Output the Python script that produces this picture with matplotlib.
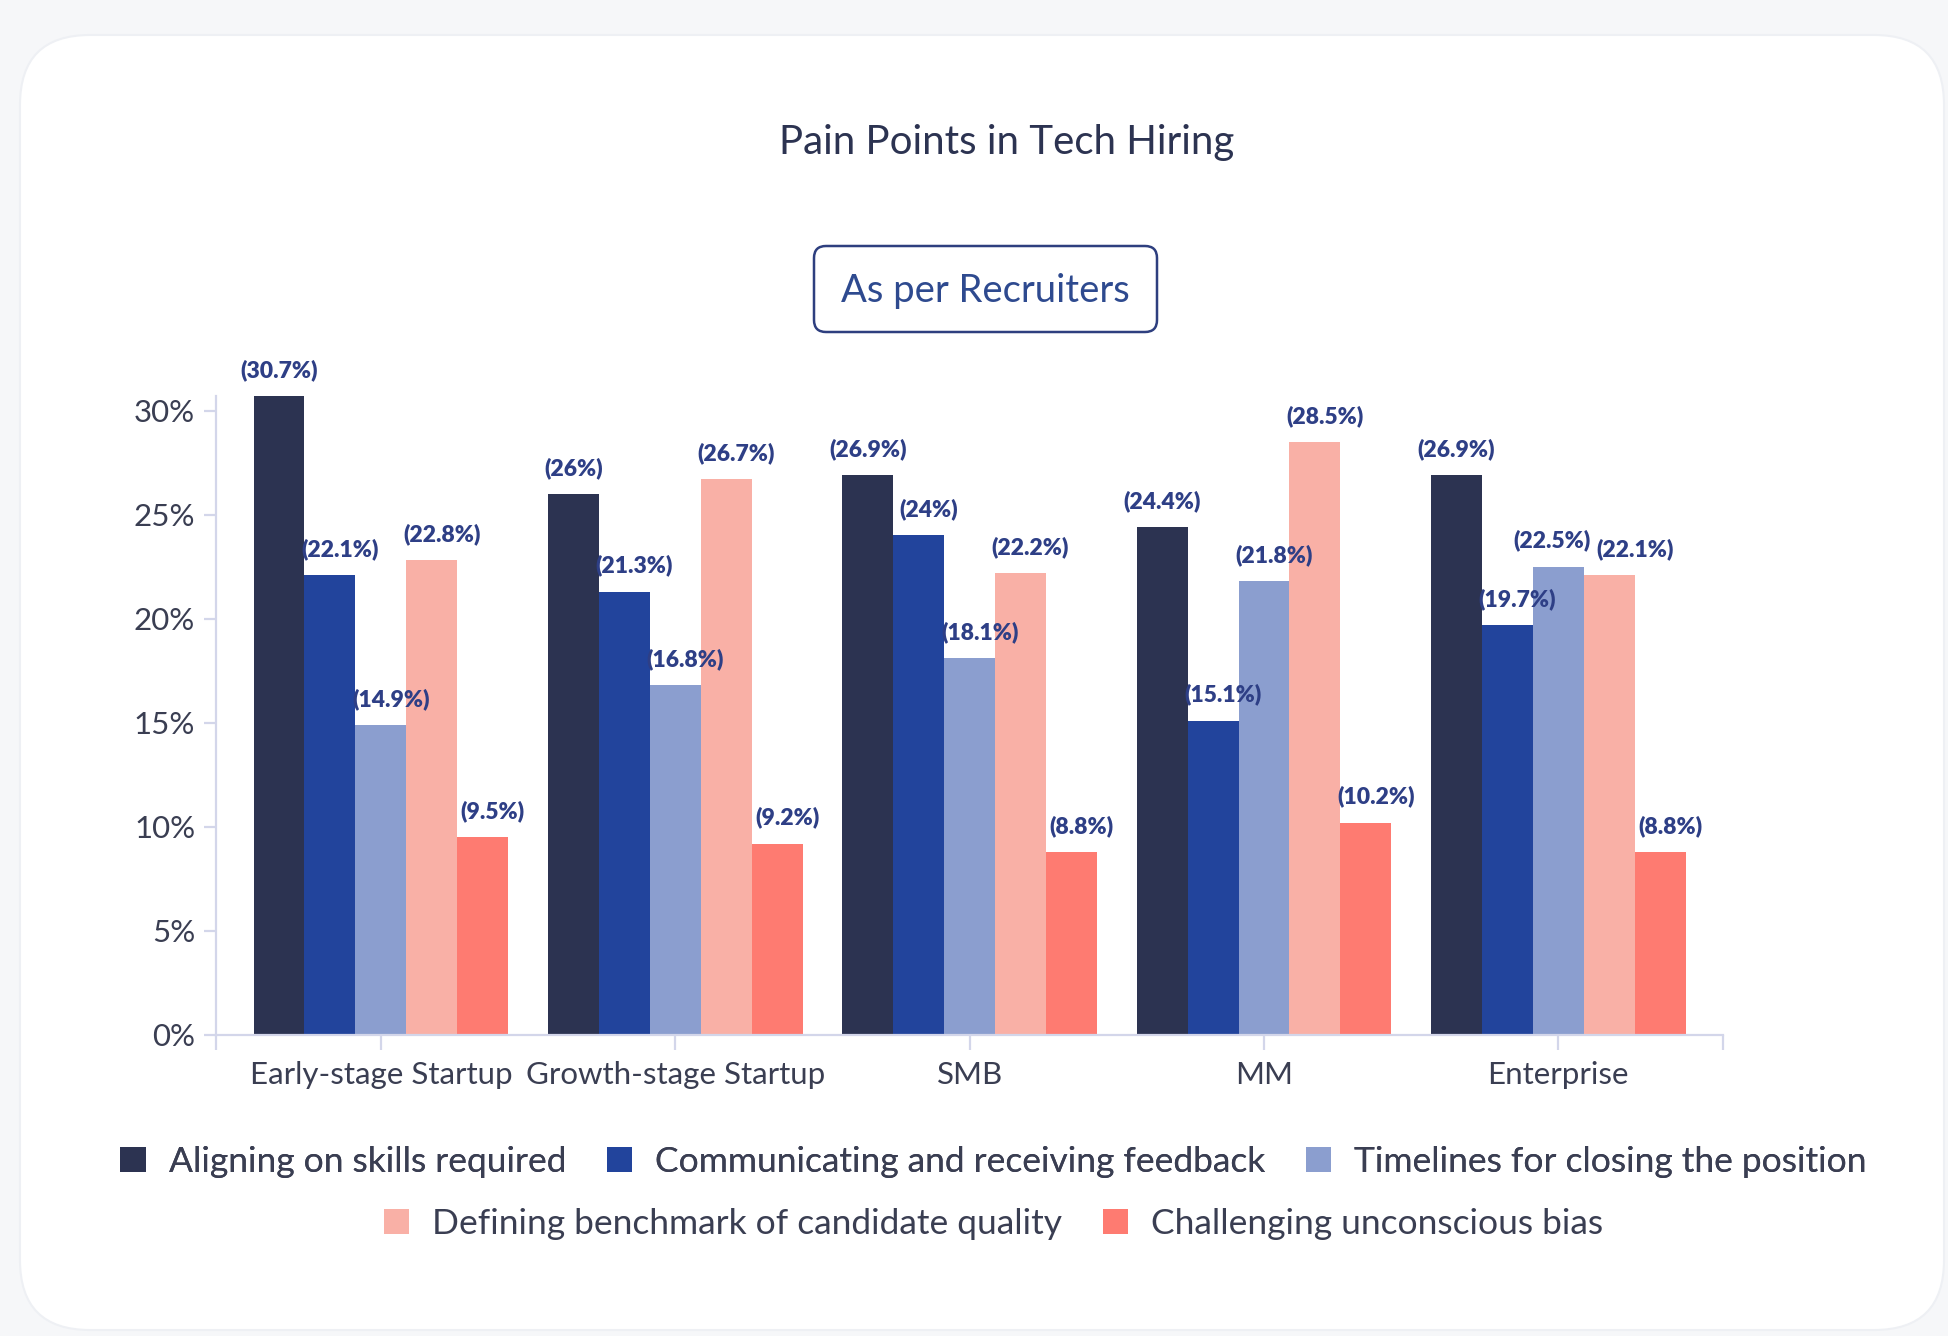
import matplotlib.pyplot as plt
from matplotlib.patches import FancyBboxPatch, Patch
import numpy as np

plt.rcParams['font.family'] = ['Lato', 'DejaVu Sans']

# data
segments = ["Early-stage Startup", "Growth-stage Startup", "SMB", "MM", "Enterprise"]
series_names = ["Aligning on skills required",
                "Communicating and receiving feedback",
                "Timelines for closing the position",
                "Defining benchmark of candidate quality",
                "Challenging unconscious bias"]
aligning = [30.7, 26, 26.9, 24.4, 26.9]
communicating = [22.1, 21.3, 24, 15.1, 19.7]
timelines = [14.9, 16.8, 18.1, 21.8, 22.5]
benchmark = [22.8, 26.7, 22.2, 28.5, 22.1]
bias = [9.5, 9.2, 8.8, 10.2, 8.8]
colors = ["#2c3351", "#22449c", "#8b9ecf", "#f9b0a6", "#fe7b71"]

values = [aligning, communicating, timelines, benchmark, bias]

fig = plt.figure(figsize=(19.48, 13.36), dpi=100)
fig.patch.set_facecolor("#f6f7f9")

# white card behind everything
card = FancyBboxPatch((20, 6), 1924, 1295, boxstyle="round,pad=0,rounding_size=70",
                      transform=None, facecolor="white", edgecolor="#eef0f4", lw=1.5, zorder=0)
fig.add_artist(card)

ax = fig.add_axes([0.1109, 0.2253, 0.7737, 0.4783])
ax.set_facecolor("none")

x = np.arange(len(segments))
w = 0.173
labels = [[] for _ in segments]
for i, (vals, c) in enumerate(zip(values, colors)):
    pos = x + (i - 2) * w
    ax.bar(pos, vals, width=w, color=c, zorder=2)
    dx = 0 if i == 0 else 10
    for g, (px, v) in enumerate(zip(pos, vals)):
        t = ax.annotate("(%g%%)" % v, (px, v), xytext=(dx, 26), textcoords="offset pixels",
                        ha="center", va="center", fontsize=16.5, fontweight="heavy",
                        color="#2e3f86")
        labels[g].append(t)

ax.set_xlim(-0.56, 4.56)
ax.set_ylim(0, 30.7)
ax.set_yticks(range(0, 31, 5))
ax.set_yticklabels(["%d%%" % t for t in range(0, 31, 5)])
ax.set_xticks(x)
ax.set_xticklabels(segments)
ax.set_xticks([-0.56, 4.56], minor=True)

for s in ["top", "right"]:
    ax.spines[s].set_visible(False)
for s in ["left", "bottom"]:
    ax.spines[s].set_color("#d3d6ea")
    ax.spines[s].set_linewidth(1.6)

ax.tick_params(axis="y", length=9, width=1.6, color="#d3d6ea", pad=6,
               labelsize=22.5, labelcolor="#3a3e52")
ax.tick_params(axis="x", which="both", length=11, width=1.6, color="#d3d6ea", pad=8,
               labelsize=22.5, labelcolor="#3a3e52")

# nudge neighbouring value labels apart when they collide
fig.canvas.draw()
r = fig.canvas.get_renderer()
for grp in labels:
    for a, b in zip(grp[:-1], grp[1:]):
        ea, eb = a.get_window_extent(r), b.get_window_extent(r)
        if ea.x1 > eb.x0 - 6 and ea.y0 < eb.y1 and eb.y0 < ea.y1:
            shift = (ea.x1 - eb.x0 + 6) / 2
            xa, ya = a.xyann
            xb, yb = b.xyann
            a.xyann = (xa - shift, ya)
            b.xyann = (xb + shift, yb)

fig.text(0.517, 0.893, "Pain Points in Tech Hiring", ha="center", va="center",
         fontsize=29, color="#2c3351")

badge = FancyBboxPatch((814, 1004), 343, 86, boxstyle="round,pad=0,rounding_size=12",
                       transform=None, facecolor="white", edgecolor="#2e3f7f", lw=1.8)
fig.add_artist(badge)
fig.text(0.5059, 0.7825, "As per Recruiters", ha="center", va="center",
         fontsize=27.5, color="#2e4a8f")

handles = [Patch(facecolor=c, edgecolor="none") for c in colors]
leg_kw = dict(frameon=False, fontsize=25.5, handlelength=0.72, handleheight=0.72,
              handletextpad=0.64, columnspacing=1.15, labelcolor="#3a3e52", loc="center")
leg1 = fig.legend(handles[:3], series_names[:3], ncol=3,
                  bbox_to_anchor=(0.510, 0.1302), **leg_kw)
fig.add_artist(leg1)
fig.legend(handles[3:], series_names[3:], ncol=2,
           bbox_to_anchor=(0.510, 0.0838), **leg_kw)

fig.savefig("out.png", dpi=100, facecolor=fig.get_facecolor())
